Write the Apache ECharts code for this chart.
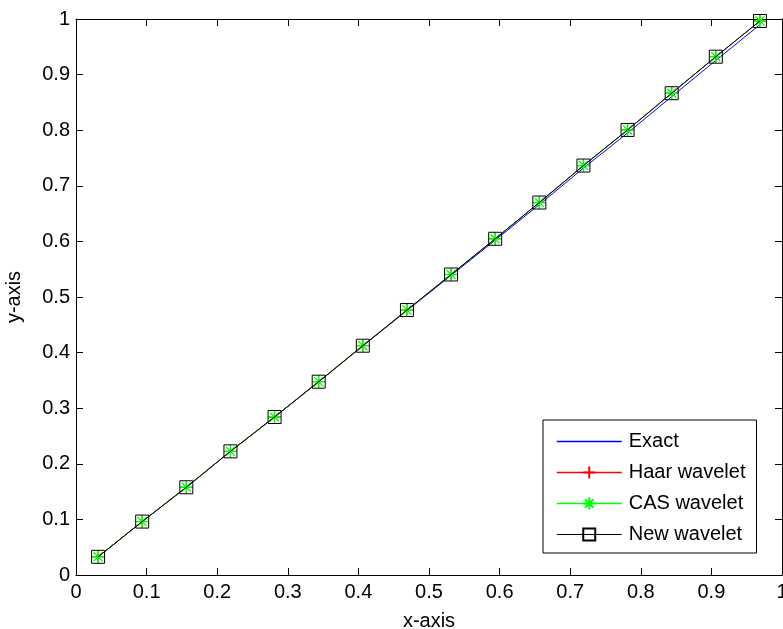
<!DOCTYPE html>
<html>
<head>
<meta charset="utf-8">
<script src="https://cdn.jsdelivr.net/npm/echarts@6/dist/echarts.min.js"></script>
<style>
html,body{margin:0;padding:0;background:#fff;}
#chart{width:783px;height:629px;}
</style>
</head>
<body>
<div id="chart"></div>
<script>
const xValues = [0.03125, 0.09375, 0.15625, 0.21875, 0.28125, 0.34375, 0.40625, 0.46875,
                 0.53125, 0.59375, 0.65625, 0.71875, 0.78125, 0.84375, 0.90625, 0.96875];
const exactValues = [0.0327, 0.0961, 0.1578, 0.2224, 0.2842, 0.3475, 0.4120, 0.4755,
                     0.5388, 0.6022, 0.6662, 0.7318, 0.7950, 0.8605, 0.9255, 0.9898];
const haarValues = [0.0327, 0.0961, 0.1578, 0.2224, 0.2842, 0.3477, 0.4124, 0.4765,
                    0.5405, 0.6047, 0.6699, 0.7364, 0.8005, 0.8665, 0.9322, 0.9964];
const casValues = [0.0327, 0.0961, 0.1578, 0.2224, 0.2842, 0.3477, 0.4124, 0.4765,
                   0.5405, 0.6047, 0.6699, 0.7364, 0.8005, 0.8665, 0.9322, 0.9964];
const newValues = [0.0327, 0.0961, 0.1578, 0.2224, 0.2842, 0.3477, 0.4124, 0.4765,
                   0.5405, 0.6047, 0.6699, 0.7364, 0.8005, 0.8665, 0.9322, 0.9964];
const seriesNames = ['Exact', 'Haar wavelet', 'CAS wavelet', 'New wavelet'];
const seriesColors = ['#0000ff', '#ff0000', '#00ff00', '#000000'];
const xTickLabels = ['0', '0.1', '0.2', '0.3', '0.4', '0.5', '0.6', '0.7', '0.8', '0.9', '1'];
const yTickLabels = ['0', '0.1', '0.2', '0.3', '0.4', '0.5', '0.6', '0.7', '0.8', '0.9', '1'];

const FONT = 'Liberation Sans, Arial, sans-serif';
const pair = (ys) => xValues.map((x, i) => [x, ys[i]]);

const plusPath = 'path://M0,5L10,5M5,0L5,10';
const starPath = 'path://M0,5L10,5M5,0L5,10M1.5,1.5L8.5,8.5M8.5,1.5L1.5,8.5';

const chart = echarts.init(document.getElementById('chart'), null, {renderer: 'canvas'});

const baseAxis = {
  type: 'value', min: 0, max: 1, interval: 0.1,
  axisLine: {show: true, onZero: false, lineStyle: {color: '#000', width: 1}},
  axisTick: {show: true, inside: true, length: 7, lineStyle: {color: '#000', width: 1}},
  splitLine: {show: false}
};

chart.setOption({
  backgroundColor: '#fff',
  animation: false,
  grid: {left: 76, right: 1, top: 19, bottom: 54, containLabel: false, outerBoundsMode: 'none'},
  xAxis: [
    Object.assign({}, baseAxis, {
      position: 'bottom',
      name: 'x-axis', nameLocation: 'middle', nameGap: 36,
      nameTextStyle: {color: '#000', fontSize: 20, fontFamily: FONT},
      axisLabel: {color: '#000', fontSize: 20, fontFamily: FONT, margin: 7,
        formatter: v => xTickLabels[Math.round(v * 10)]}
    }),
    Object.assign({}, baseAxis, {position: 'top', axisLabel: {show: false}})
  ],
  yAxis: [
    Object.assign({}, baseAxis, {
      position: 'left',
      name: 'y-axis', nameLocation: 'middle', nameGap: 52, nameRotate: 90,
      nameTextStyle: {color: '#000', fontSize: 20, fontFamily: FONT},
      axisLabel: {color: '#000', fontSize: 20, fontFamily: FONT, margin: 6,
        formatter: v => yTickLabels[Math.round(v * 10)]}
    }),
    Object.assign({}, baseAxis, {position: 'right', axisLabel: {show: false}})
  ],
  legend: {
    orient: 'vertical', left: 543, top: 420,
    padding: [10, 11, 7, 13],
    itemWidth: 65, itemHeight: 15, itemGap: 8,
    backgroundColor: '#fff', borderColor: '#000', borderWidth: 1, borderRadius: 0,
    textStyle: {color: '#000', fontSize: 20, fontFamily: FONT, lineHeight: 23, padding: [0, 0, 0, 2]},
    data: [
      {name: seriesNames[0], itemStyle: {opacity: 0}, lineStyle: {color: seriesColors[0], width: 1.5}},
      {name: seriesNames[1], lineStyle: {color: seriesColors[1], width: 1.5}},
      {name: seriesNames[2], lineStyle: {color: seriesColors[2], width: 1.5}},
      {name: seriesNames[3], lineStyle: {color: seriesColors[3], width: 1}}
    ]
  },
  series: [
    {
      name: seriesNames[0], type: 'line', data: pair(exactValues),
      showSymbol: false, symbol: 'none',
      lineStyle: {color: seriesColors[0], width: 1}, itemStyle: {color: seriesColors[0]}, z: 2
    },
    {
      name: seriesNames[1], type: 'line', data: pair(haarValues),
      symbol: plusPath, symbolSize: 12, showAllSymbol: true,
      lineStyle: {color: seriesColors[1], width: 1},
      itemStyle: {color: 'none', borderColor: seriesColors[1], borderWidth: 1}, z: 3
    },
    {
      name: seriesNames[2], type: 'line', data: pair(casValues),
      symbol: starPath, symbolSize: 13, showAllSymbol: true,
      lineStyle: {color: seriesColors[2], width: 1},
      itemStyle: {color: 'none', borderColor: seriesColors[2], borderWidth: 1.3}, z: 4
    },
    {
      name: seriesNames[3], type: 'line', data: pair(newValues),
      symbol: 'rect', symbolSize: 13, showAllSymbol: true,
      lineStyle: {color: seriesColors[3], width: 1},
      itemStyle: {color: 'none', borderColor: seriesColors[3], borderWidth: 1}, z: 5
    }
  ]
});
</script>
</body>
</html>
